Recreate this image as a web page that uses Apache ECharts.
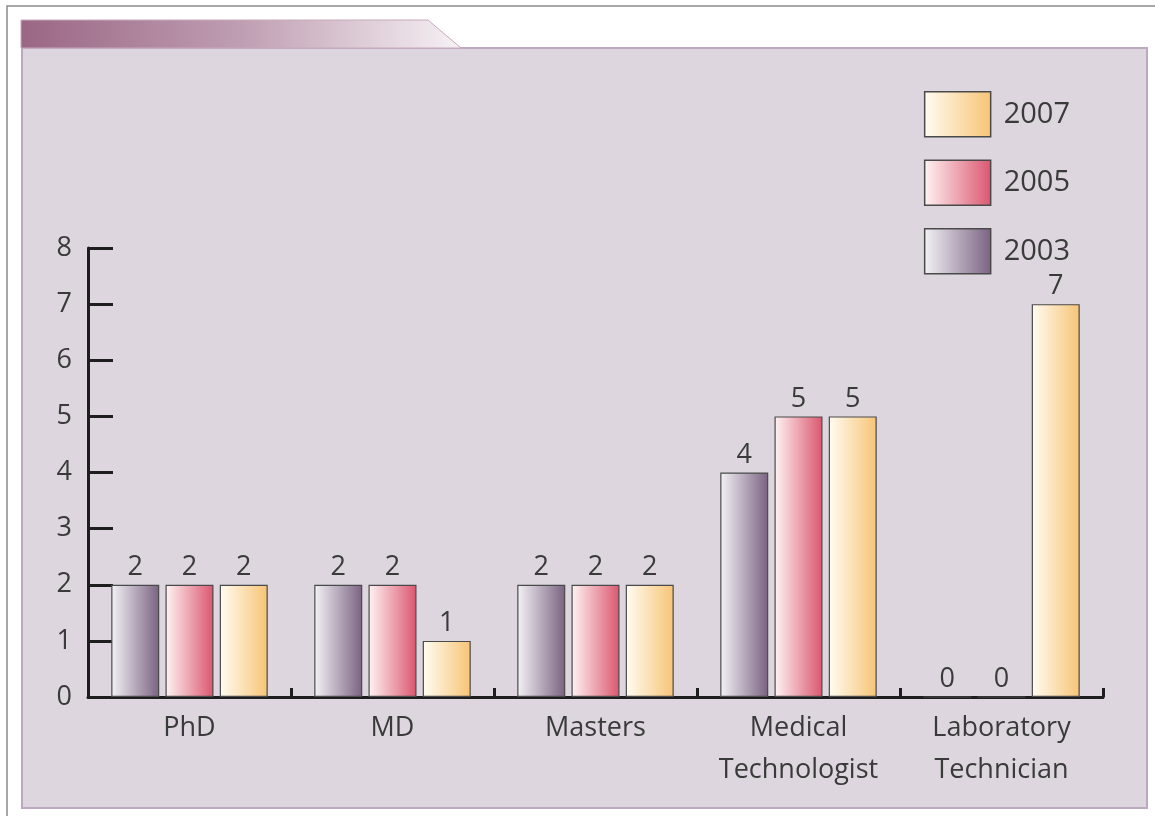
<!DOCTYPE html>
<html>
<head>
<meta charset="utf-8">
<style>
  html, body { margin: 0; padding: 0; background: #ffffff; }
  #chart { width: 1155px; height: 816px; }
</style>
<script src="https://cdn.jsdelivr.net/npm/echarts@6/dist/echarts.min.js"></script>
</head>
<body>
<div id="chart"></div>
<script>
// Staff qualifications by survey year
const categories = ['PhD', 'MD', 'Masters', 'Medical\nTechnologist', 'Laboratory\nTechnician'];
const years = ['2003', '2005', '2007'];
const values2003 = [2, 2, 2, 4, 0];
const values2005 = [2, 2, 2, 5, 0];
const values2007 = [2, 1, 2, 5, 7];
const yTicks = [0, 1, 2, 3, 4, 5, 6, 7, 8];

const FONT = '"Open Sans", "Noto Sans", sans-serif';
const TEXT = '#3a3a3a';

function hGrad(from, to) {
  return new echarts.graphic.LinearGradient(0, 0, 1, 0, [
    { offset: 0, color: from },
    { offset: 1, color: to }
  ]);
}

const fills = {
  '2003': hGrad('#f4f2f6', '#7a6281'),
  '2005': hGrad('#fef4f3', '#db566f'),
  '2007': hGrad('#fffcf2', '#f7c475')
};

const seriesValues = { '2003': values2003, '2005': values2005, '2007': values2007 };

const chart = echarts.init(document.getElementById('chart'), null, { renderer: 'canvas' });

chart.setOption({
  animation: false,
  backgroundColor: '#ffffff',
  graphic: [
    // outer frame
    { type: 'rect', z: -10, shape: { x: 7, y: 6, width: 1160, height: 820 },
      style: { fill: '#ffffff', stroke: '#8a8a8a', lineWidth: 1.5 } },
    // chart panel
    { type: 'rect', z: -9, shape: { x: 22, y: 48, width: 1125, height: 760 },
      style: { fill: '#ddd6df', stroke: '#bca9bf', lineWidth: 2 } },
    // header tab
    { type: 'polygon', z: -8,
      shape: { points: [[21, 20], [428, 20], [461, 48], [21, 48]] },
      style: {
        fill: new echarts.graphic.LinearGradient(0, 0, 1, 0, [
          { offset: 0, color: '#9a6684' },
          { offset: 0.5, color: '#bf9eb2' },
          { offset: 1, color: '#f6f1f4' }
        ]),
        stroke: '#c7a9bb', lineWidth: 1
      } }
  ],
  legend: {
    orient: 'vertical',
    right: 80,
    top: 86,
    data: ['2007', '2005', '2003'],
    icon: 'rect',
    itemWidth: 66,
    itemHeight: 45,
    itemGap: 22,
    selectedMode: false,
    itemStyle: { borderColor: '#4a4a4a', borderWidth: 1.5 },
    textStyle: { fontFamily: FONT, fontSize: 29, color: TEXT, padding: [10, 0, 0, 8] }
  },
  grid: { left: 88, right: 52, top: 248, bottom: 119, containLabel: false },
  xAxis: {
    type: 'category',
    data: categories,
    axisLine: { lineStyle: { color: '#1e1e1e', width: 3 } },
    axisTick: { show: true, inside: true, length: 9, interval: 0, lineStyle: { color: '#1e1e1e', width: 3 } },
    axisLabel: { interval: 0, fontFamily: FONT, fontSize: 27, color: TEXT, margin: 10, lineHeight: 42 }
  },
  yAxis: {
    type: 'value',
    min: 0,
    max: 8,
    interval: 1,
    splitLine: { show: false },
    axisLine: { show: true, lineStyle: { color: '#1e1e1e', width: 3 } },
    axisTick: { show: true, inside: true, length: 25, lineStyle: { color: '#1e1e1e', width: 3 } },
    axisLabel: {
      fontFamily: FONT, fontSize: 27, color: TEXT, margin: 16,
      formatter: v => (yTicks.includes(v) ? String(v) : '')
    }
  },
  series: years.map(y => ({
    name: y,
    type: 'bar',
    data: seriesValues[y],
    barWidth: 48,
    barGap: '13%',
    itemStyle: { color: fills[y], borderColor: '#4a4a4a', borderWidth: 1.2 },
    label: {
      show: true, position: 'top', distance: 4,
      fontFamily: FONT, fontSize: 27, color: TEXT
    }
  }))
});
</script>
</body>
</html>
